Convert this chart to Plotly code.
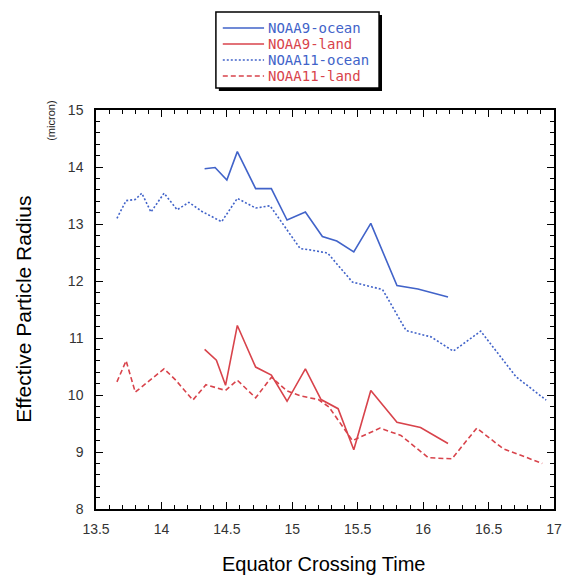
import plotly.graph_objects as go

# ---- data ----
noaa9_ocean_x = [14.33, 14.41, 14.50, 14.58, 14.72, 14.84, 14.96, 15.10, 15.23, 15.34, 15.47, 15.60, 15.80, 15.96, 16.19]
noaa9_ocean_y = [13.97, 13.99, 13.77, 14.27, 13.62, 13.62, 13.07, 13.21, 12.78, 12.70, 12.51, 13.01, 11.92, 11.86, 11.72]

noaa9_land_x = [14.33, 14.42, 14.49, 14.58, 14.72, 14.84, 14.96, 15.10, 15.22, 15.35, 15.47, 15.60, 15.80, 15.98, 16.19]
noaa9_land_y = [10.80, 10.61, 10.17, 11.22, 10.49, 10.35, 9.89, 10.46, 9.92, 9.76, 9.04, 10.08, 9.52, 9.43, 9.15]

noaa11_ocean_x = [13.66, 13.73, 13.80, 13.85, 13.92, 14.02, 14.12, 14.21, 14.31, 14.46, 14.58, 14.72, 14.83,
                  14.96, 15.06, 15.15, 15.27, 15.46, 15.69, 15.87, 16.06, 16.23, 16.44, 16.71, 16.94]
noaa11_ocean_y = [13.10, 13.41, 13.43, 13.54, 13.21, 13.54, 13.25, 13.38, 13.22, 13.04, 13.45, 13.28, 13.32,
                  12.89, 12.57, 12.54, 12.49, 11.98, 11.85, 11.13, 11.02, 10.77, 11.12, 10.32, 9.91]

noaa11_land_x = [13.66, 13.73, 13.80, 14.02, 14.11, 14.24, 14.34, 14.49, 14.58, 14.72, 14.84, 14.96, 15.07,
                 15.20, 15.28, 15.46, 15.67, 15.83, 16.04, 16.22, 16.41, 16.61, 16.91]
noaa11_land_y = [10.23, 10.60, 10.05, 10.46, 10.26, 9.91, 10.18, 10.08, 10.26, 9.95, 10.31, 10.07, 9.98,
                 9.92, 9.79, 9.20, 9.42, 9.29, 8.90, 8.88, 9.42, 9.06, 8.80]

series_names = ["NOAA9-ocean", "NOAA9-land", "NOAA11-ocean", "NOAA11-land"]

BLUE = "#4163c9"
RED = "#d8434b"
styles = [(BLUE, "solid"), (RED, "solid"), (BLUE, "2px,2px"), (RED, "5px,3px")]
data = [(noaa9_ocean_x, noaa9_ocean_y), (noaa9_land_x, noaa9_land_y),
        (noaa11_ocean_x, noaa11_ocean_y), (noaa11_land_x, noaa11_land_y)]

fig = go.Figure()
for name, (xs, ys), (col, dash) in zip(series_names, data, styles):
    fig.add_trace(go.Scatter(x=xs, y=ys, mode="lines", name=name, showlegend=False,
                             line=dict(color=col, width=1.6, dash=dash)))

# The page body has an 8px margin, so the figure is sized/positioned to fit the window.
OFF = 8
W, H = 571 - OFF, 575 - OFF
ML, MR, MT, MB = 88, 9, 102, 66
PW, PH = W - ML - MR, H - MT - MB


def px2x(px):
    return (px - OFF - ML) / PW


def px2y(py):
    return (H - MB - (py - OFF)) / PH


FONT = "Liberation Sans, Arial, sans-serif"

shapes = []
annotations = []
# legend box with drop shadow (positions in window pixels)
bx0, by0, bx1, by1 = 218, 12, 384, 88
shapes.append(dict(type="rect", xref="paper", yref="paper",
                   x0=px2x(bx0 + 3), x1=px2x(bx1 + 3), y0=px2y(by1 + 3), y1=px2y(by0 + 3),
                   fillcolor="black", line=dict(width=0)))
shapes.append(dict(type="rect", xref="paper", yref="paper",
                   x0=px2x(bx0), x1=px2x(bx1), y0=px2y(by1), y1=px2y(by0),
                   fillcolor="white", line=dict(color="black", width=1.5)))
rows = [28, 44, 60, 76]
for name, (col, dash), ry in zip(series_names, styles, rows):
    shapes.append(dict(type="line", xref="paper", yref="paper",
                       x0=px2x(225), x1=px2x(267), y0=px2y(ry), y1=px2y(ry),
                       line=dict(color=col, width=1.5, dash=dash)))
    annotations.append(dict(text=name, xref="paper", yref="paper", x=px2x(269), y=px2y(ry),
                            xanchor="left", yanchor="middle", showarrow=False,
                            font=dict(family="DejaVu Sans Mono, monospace", size=14, color=col)))

annotations.append(dict(text="Effective Particle Radius", xref="paper", yref="paper",
                        x=px2x(22), y=0.5, textangle=-90, showarrow=False,
                        xanchor="center", yanchor="middle",
                        font=dict(family=FONT, size=21, color="black")))
annotations.append(dict(text="Equator Crossing Time", xref="paper", yref="paper",
                        x=px2x(327), y=px2y(564), showarrow=False,
                        xanchor="center", yanchor="middle",
                        font=dict(family=FONT, size=20, color="black")))
annotations.append(dict(text="(micron)", xref="paper", yref="paper",
                        x=px2x(50), y=px2y(121), textangle=-90, showarrow=False,
                        xanchor="center", yanchor="middle",
                        font=dict(family=FONT, size=11, color="#222")))

axis_common = dict(showgrid=False, zeroline=False, showline=True, linecolor="black", linewidth=1.5,
                   mirror="allticks", ticks="inside", ticklen=7, tickwidth=1.2, tickcolor="black",
                   tickfont=dict(family=FONT, size=14, color="#333"))

fig.update_layout(
    width=W, height=H,
    margin=dict(l=ML, r=MR, t=MT, b=MB),
    plot_bgcolor="white", paper_bgcolor="white",
    xaxis=dict(range=[13.5, 17], dtick=0.5, tick0=13.5, ticklabelstandoff=6,
               minor=dict(dtick=0.1, ticks="inside", ticklen=4, tickcolor="black", tickwidth=1),
               **axis_common),
    yaxis=dict(range=[8, 15], dtick=1, tick0=8, ticklabelstandoff=8,
               minor=dict(dtick=0.2, ticks="inside", ticklen=4, tickcolor="black", tickwidth=1),
               **axis_common),
    shapes=shapes,
    annotations=annotations,
)

fig.write_html("out.html")
